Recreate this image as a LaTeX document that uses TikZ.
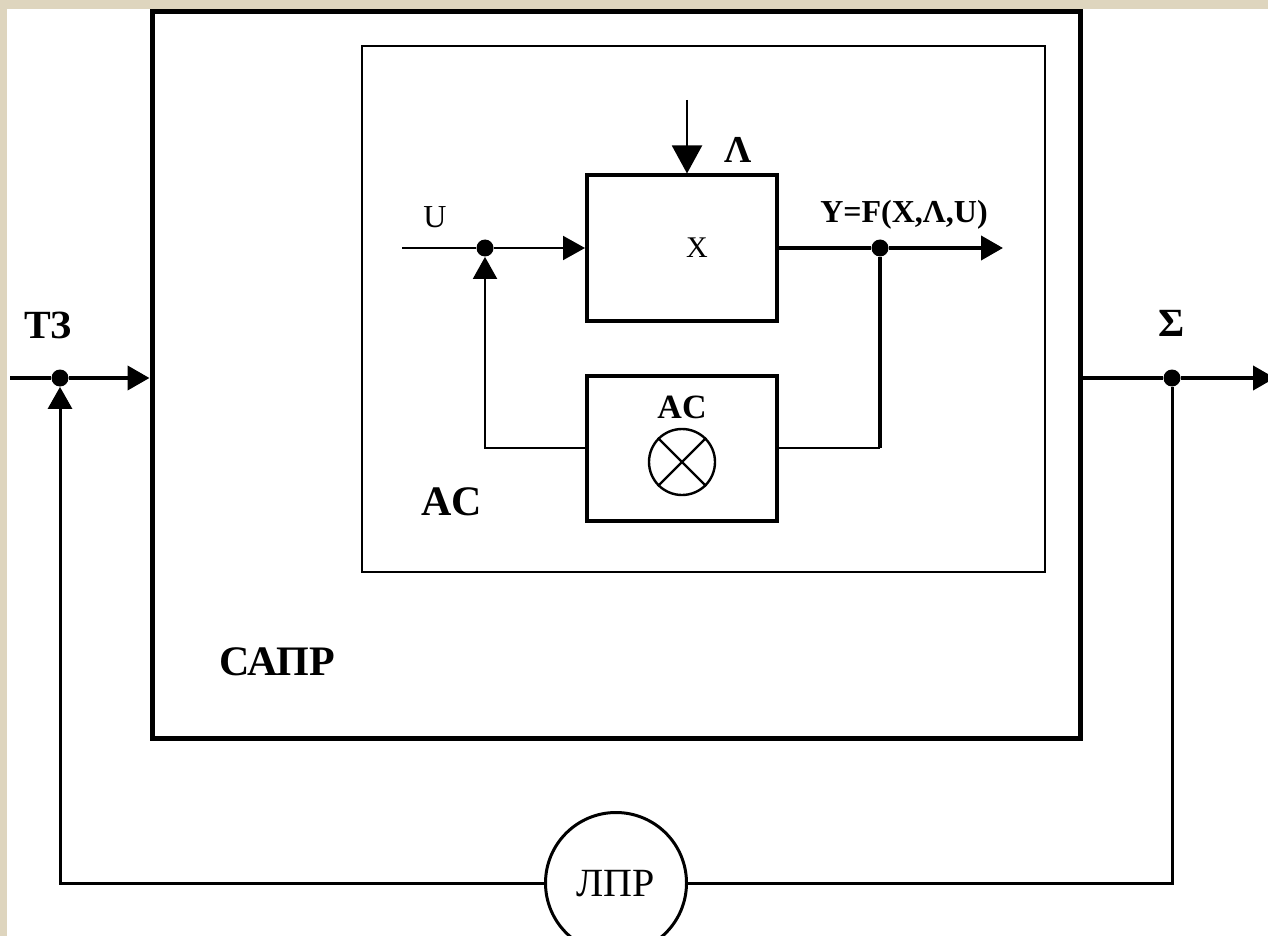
\documentclass[tikz,border=0pt]{standalone}
\usepackage{fontspec}
\setmainfont{Liberation Serif}
\usetikzlibrary{arrows.meta,positioning}
\definecolor{parch}{RGB}{222,213,190}
\tikzset{
  cadre/.style={draw,inner sep=0pt},
  bloc/.style={draw,line width=2pt,inner sep=0pt,minimum width=95pt,minimum height=72.5pt},
  point/.style={circle,fill,inner sep=0pt,minimum size=8.5pt},
  pointe/.style={-{Triangle[length=11pt,width=12pt]}},
  grossepointe/.style={-{Triangle[length=14pt,width=15pt]}},
  gros/.style={line width=2pt},
  fin/.style={line width=1pt},
  txt/.style={inner sep=0pt,font=\fontsize{#1}{#1}\selectfont\bfseries},
  txtn/.style={inner sep=0pt,font=\fontsize{#1}{#1}\selectfont}
}
\begin{document}
\begin{tikzpicture}[x=0.5pt,y=-0.5pt]
	\clip (0,0) rectangle (1268,936);
	\fill[parch] (0,0) rectangle (1268,936);
	\fill[white] (7,9) rectangle (1268,936);
	% cadres
	\node[cadre,line width=2.5pt,minimum width=464pt,minimum height=363pt] (sapr) at (616,375) {};
	\node[cadre,line width=1pt,minimum width=341.5pt,minimum height=263pt] (as) at (703.5,309) {};
	\node[bloc] (objet) at (682,248) {};
	\node[bloc] (regul) at (682,448) {};
	\node[circle,draw,line width=1.2pt,minimum size=33pt] (prod) at (682,462) {};
	\draw[line width=1.2pt] (prod.north west) -- (prod.south east);
	\draw[line width=1.2pt] (prod.north east) -- (prod.south west);
	\node[circle,draw,line width=1.5pt,minimum size=70.5pt] (lpr) at (616,883) {};
	% points
	\node[point] (tz) at (60,378) {};
	\node[point] (sum) at (1172,378) {};
	\node[point] (u) at (485,248) {};
	\node[point] (y) at (880,248) {};
	\coordinate (entree) at (10,378);
	\coordinate (sortie) at (1275,378);
	\coordinate (uin) at (402,248);
	\coordinate (yout) at (1003,248);
	\coordinate (lam) at (687,100);
	% liaisons
	\draw[gros] (entree) -- (tz);
	\draw[gros,pointe] (tz) -- (tz -| sapr.west);
	\draw[gros] (sapr.east |- sum) -- (sum);
	\draw[gros,pointe] (sum) -- (sortie);
	\draw[line width=1.5pt] (sum) -- (sum |- lpr) -- (lpr.east);
	\draw[line width=1.5pt,pointe] (lpr.west) -- (tz |- lpr) -- (tz.south);
	\draw[fin] (uin) -- (u);
	\draw[fin,pointe] (u) -- (objet.west);
	\draw[fin,pointe] (regul.west) -- (u |- regul) -- (u.south);
	\draw[gros] (objet.east) -- (y);
	\draw[gros,pointe] (y) -- (yout);
	\draw[gros] (y) -- (y |- regul);
	\draw[fin] (y |- regul) -- (regul.east);
	\draw[fin,grossepointe] (lam) -- (lam |- objet.north);
	% textes
	\node[txt=20] at (48,325) {ТЗ};
	\node[txt=20] at (1172,323) {Σ};
	\node[txt=21] at (277,662) {САПР};
	\node[txt=21] at (452,502) {AC};
	\node[txt=17] at (682,407) {AC};
	\node[txtn=15] at (697,248) {X};
	\node[txtn=16] at (435,217) {U};
	\node[txt=19] at (738,150) {Λ};
	\node[txt=16] at (904,215) {Y=F(X,Λ,U)};
	\node[txtn=20] at (616,884) {ЛПР};
\end{tikzpicture}
\end{document}
